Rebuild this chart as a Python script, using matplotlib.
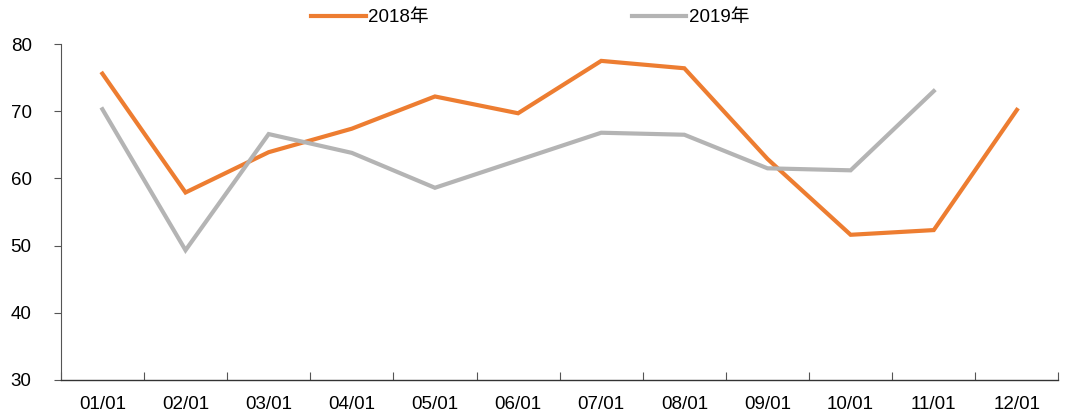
import matplotlib

matplotlib.use("Agg")

import matplotlib.pyplot as plt
import numpy as np

plt.rcParams["font.family"] = ["Liberation Sans", "Noto Sans CJK SC"]
plt.rcParams["font.size"] = 13.5

months = ["01/01", "02/01", "03/01", "04/01", "05/01", "06/01",
          "07/01", "08/01", "09/01", "10/01", "11/01", "12/01"]
values_2018 = [75.6, 57.9, 63.9, 67.4, 72.2, 69.7, 77.5, 76.4, 62.9, 51.6, 52.3, 70.2]
values_2019 = [70.3, 49.3, 66.6, 63.8, 58.6, 62.7, 66.8, 66.5, 61.5, 61.2, 73.0]

ORANGE = "#ED7D31"
GRAY = "#B4B4B4"

fig = plt.figure(figsize=(10.67, 4.16), dpi=100)
ax = fig.add_axes([0.057, 0.087, 0.935, 0.807])

x = np.arange(len(months))
ax.plot(x, values_2018, color=ORANGE, linewidth=3, label="2018年", solid_joinstyle="miter")
ax.plot(x[:len(values_2019)], values_2019, color=GRAY, linewidth=3, label="2019年",
        solid_joinstyle="miter")

ax.set_xlim(-0.5, len(months) - 0.5)
ax.set_ylim(30, 80)
ax.set_yticks(np.arange(30, 81, 10))

# category axis: ticks sit on boundaries, labels centred under each month
ax.set_xticks(np.arange(-0.5, len(months)), minor=False)
ax.set_xticklabels([])
ax.set_xticks(x, minor=True)
ax.set_xticklabels(months, minor=True)
ax.tick_params(axis="x", which="major", direction="in", length=6, width=0.8, color="#555555")
ax.tick_params(axis="x", which="minor", length=0, pad=12, labelsize=13.5)
ax.tick_params(axis="y", direction="out", length=5, width=0.8, color="#555555", pad=16,
               labelsize=13.5)

for side in ("top", "right"):
    ax.spines[side].set_visible(False)
ax.spines["left"].set_color("#555555")
ax.spines["bottom"].set_color("#333333")
ax.spines["left"].set_linewidth(0.8)
ax.spines["bottom"].set_linewidth(1.0)

fig.legend(loc="center", bbox_to_anchor=(0.497, 0.957), ncol=2, frameon=False,
           handlelength=2.9, handletextpad=0.15, columnspacing=10.8, fontsize=13.5)

fig.savefig("out.png", dpi=100)
